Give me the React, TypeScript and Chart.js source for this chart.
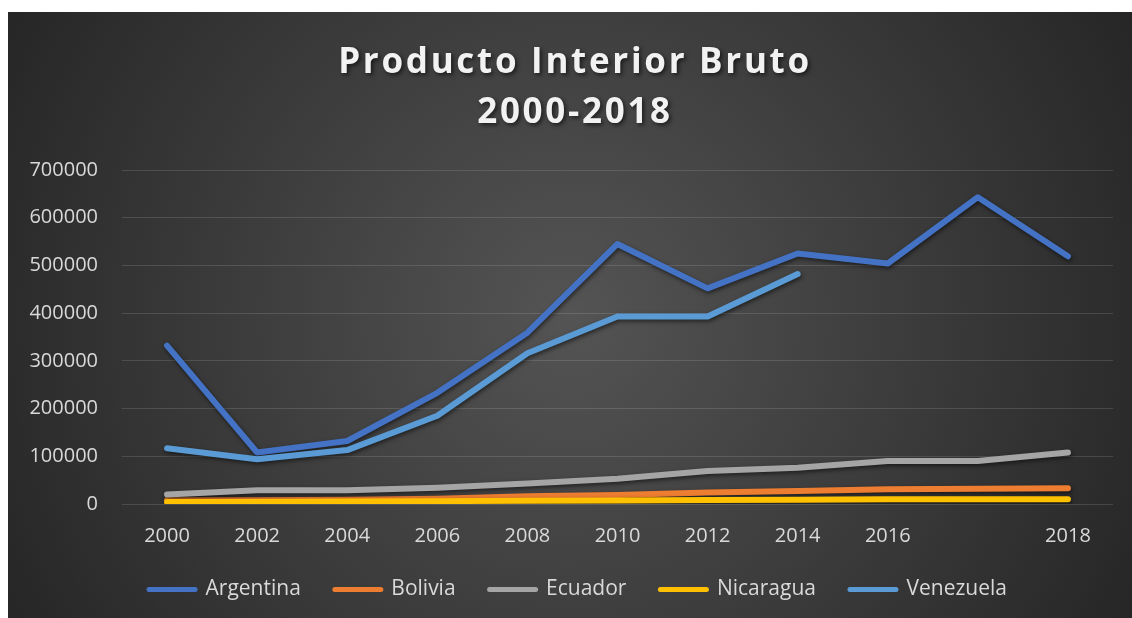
import React, { useEffect, useRef } from 'react';
import { Chart, registerables } from 'chart.js';

Chart.register(...registerables);

const TITLE_LINES = ['Producto Interior Bruto', '2000-2018'];
const YEARS = ['2000', '2002', '2004', '2006', '2008', '2010', '2012', '2014', '2016', '', '2018'];
const ARGENTINA = [332000, 108000, 132000, 233000, 359000, 545000, 452000, 525000, 504000, 643000, 519000];
const BOLIVIA = [8000, 8000, 9000, 11000, 16000, 19000, 24000, 27000, 31000, 32000, 33000];
const ECUADOR = [20000, 29000, 29000, 34000, 43000, 53000, 69000, 76000, 90000, 90000, 108000];
const NICARAGUA = [4000, 4000, 5000, 6000, 7000, 7500, 8500, 9000, 10000, 10000, 10000];
const VENEZUELA = [117000, 94000, 113000, 185000, 316000, 393000, 393000, 482000, null, null, null];
const SERIES_NAMES = ['Argentina', 'Bolivia', 'Ecuador', 'Nicaragua', 'Venezuela'];
const SERIES_VALUES = [ARGENTINA, BOLIVIA, ECUADOR, NICARAGUA, VENEZUELA];
const SERIES_COLORS = ['#4472C4', '#ED7D31', '#A5A5A5', '#FFC000', '#5B9BD5'];
const Y_MIN = 0;
const Y_MAX = 700000;
const Y_STEP = 100000;

const FONT = '"Open Sans", "DejaVu Sans", sans-serif';
const TEXT_COLOR = '#d9d9d9';

const backgroundPlugin = {
  id: 'bgGradient',
  afterLayout(chart: any) {
    // nudge the legend row to the right, as in the reference
    if (chart.legend) {
      chart.legend.left += 8;
      chart.legend.right += 8;
    }
  },
  beforeDraw(chart: any) {
    const { ctx, width, height } = chart;
    ctx.save();
    const g = ctx.createRadialGradient(width / 2, height / 2, 0, width / 2, height / 2, 640);
    g.addColorStop(0, '#545454');
    g.addColorStop(1, '#262626');
    ctx.fillStyle = g;
    ctx.fillRect(0, 0, width, height);
    ctx.restore();
  },
};

const shadowPlugin = {
  id: 'lineShadow',
  beforeDatasetDraw(chart: any) {
    const ctx = chart.ctx;
    ctx.save();
    ctx.shadowColor = 'rgba(0,0,0,0.55)';
    ctx.shadowBlur = 4;
    ctx.shadowOffsetX = 1;
    ctx.shadowOffsetY = 2;
  },
  afterDatasetDraw(chart: any) {
    chart.ctx.restore();
  },
};

const titlePlugin = {
  id: 'spacedTitle',
  afterDraw(chart: any) {
    const ctx = chart.ctx;
    ctx.save();
    ctx.font = `bold 35px ${FONT}`;
    (ctx as any).letterSpacing = '2.7px';
    ctx.textAlign = 'center';
    ctx.textBaseline = 'alphabetic';
    ctx.fillStyle = '#f2f2f2';
    ctx.shadowColor = 'rgba(0,0,0,0.6)';
    ctx.shadowBlur = 4;
    ctx.shadowOffsetX = 2;
    ctx.shadowOffsetY = 2;
    const cx = chart.width / 2 + 5;
    TITLE_LINES.forEach((line, i) => {
      ctx.fillText(line, cx, 61 + i * 50);
    });
    ctx.restore();
  },
};

export default function App() {
  const canvasRef = useRef<HTMLCanvasElement | null>(null);

  useEffect(() => {
    if (!canvasRef.current) return;
    const n = SERIES_NAMES.length;
    const defaultLabels = (Chart.defaults as any).plugins.legend.labels.generateLabels;
    const chart = new Chart(canvasRef.current, {
      type: 'line',
      data: {
        labels: YEARS,
        datasets: SERIES_NAMES.map((name, i) => ({
          label: name,
          data: SERIES_VALUES[i],
          borderColor: SERIES_COLORS[i],
          backgroundColor: SERIES_COLORS[i],
          borderWidth: 6,
          borderCapStyle: 'round' as const,
          borderJoinStyle: 'round' as const,
          pointRadius: 0,
          pointHoverRadius: 0,
          tension: 0,
          fill: false,
          spanGaps: false,
          order: n - i,
        })),
      },
      options: {
        responsive: false,
        animation: false,
        layout: { padding: { top: 158, left: 19, right: 19, bottom: 8 } },
        plugins: {
          title: { display: false },
          tooltip: { enabled: false },
          legend: {
            display: true,
            position: 'bottom',
            labels: {
              color: TEXT_COLOR,
              font: { family: FONT, size: 21 },
              usePointStyle: true,
              pointStyle: 'line',
              pointStyleWidth: 46,
              padding: 34,
              sort: (a: any, b: any) => a.datasetIndex - b.datasetIndex,
              generateLabels: (c: any) =>
                defaultLabels(c).map((item: any) => ({
                  ...item,
                  lineCap: 'round',
                  lineWidth: 5,
                  strokeStyle: SERIES_COLORS[item.datasetIndex],
                })),
            },
          },
        },
        scales: {
          x: {
            type: 'category',
            offset: true,
            grid: { display: false, drawTicks: false },
            border: { display: false },
            ticks: {
              color: TEXT_COLOR,
              font: { family: FONT, size: 20 },
              padding: 20,
              autoSkip: false,
              maxRotation: 0,
            },
            afterFit: (scale: any) => {
              scale.height = 41;
            },
          },
          y: {
            min: Y_MIN,
            max: Y_MAX,
            grid: { color: 'rgba(255,255,255,0.13)', lineWidth: 1, drawTicks: false },
            border: { display: false },
            ticks: {
              stepSize: Y_STEP,
              color: TEXT_COLOR,
              font: { family: FONT, size: 20 },
              padding: 24,
              callback: (v: any) => String(v),
            },
            afterFit: (scale: any) => {
              scale.width = 95;
            },
          },
        },
      },
      plugins: [backgroundPlugin, shadowPlugin, titlePlugin],
    });
    return () => chart.destroy();
  }, []);

  return (
    <div style={{ position: 'absolute', left: 8, top: 12, width: 1124, height: 606 }}>
      <canvas ref={canvasRef} width={1124} height={606} />
    </div>
  );
}
